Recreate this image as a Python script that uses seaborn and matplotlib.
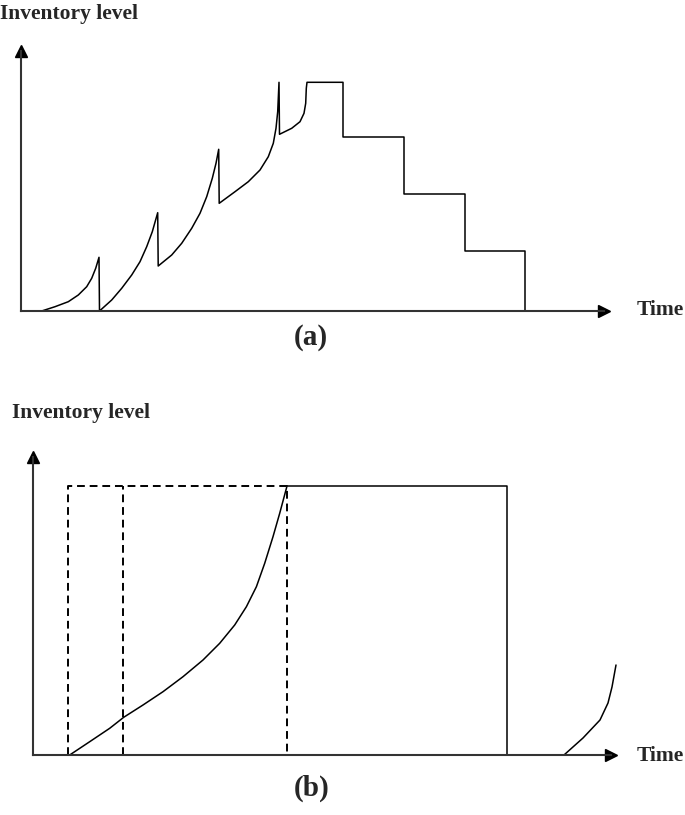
import numpy as np
import pandas as pd
import matplotlib
matplotlib.use("Agg")
import matplotlib.pyplot as plt
import seaborn as sns

# panel (a): inventory path, time / level in arbitrary units
a_time = [0.0, 2.07, 3.4, 4.73, 5.73, 6.57, 7.07, 7.47, 7.8, 7.85,
          9.07, 10.07, 11.07, 11.9, 12.57, 13.13, 13.67, 13.72,
          15.07, 16.07, 17.07, 17.9, 18.57, 19.13, 19.5, 19.77, 19.82,
          21.4, 22.73, 23.9, 24.73, 25.23, 25.5, 25.67, 25.8, 25.85,
          27.07, 27.9, 28.3, 28.47, 28.53, 28.6,
          32.2, 32.2, 38.3, 38.3, 44.4, 44.4, 50.4, 50.4]
a_level = [0.0, 0.0, 0.43, 0.93, 1.6, 2.43, 3.27, 4.27, 5.37, 0.0,
           1.1, 2.27, 3.6, 4.93, 6.43, 7.93, 9.83, 4.5,
           5.6, 6.77, 8.27, 9.77, 11.43, 13.27, 14.77, 16.17, 10.77,
           11.93, 12.93, 14.1, 15.43, 16.77, 18.27, 19.93, 22.87, 17.67,
           18.27, 18.93, 19.77, 20.77, 22.27, 22.87,
           22.87, 17.4, 17.4, 11.7, 11.7, 6.0, 6.0, 0.0]

# panel (b): production curve, then flat stock and depletion
b_time = [3.67, 5.67, 7.67, 9.07, 11.0, 13.0, 15.0, 17.0, 18.67, 20.17,
          21.34, 22.34, 23.17, 24.0, 24.67, 25.34, 25.4, 47.4, 47.4]
b_level = [0.0, 1.33, 2.67, 3.77, 5.0, 6.33, 7.83, 9.5, 11.17, 13.0,
           14.83, 16.83, 19.17, 21.83, 24.17, 26.67, 26.9, 26.9, 0.0]
b_dash_time = [3.5, 3.5, 25.4, 25.4]
b_dash_level = [0.0, 26.9, 26.9, 0.0]
b_mid_time = [9.0, 9.0]
b_mid_level = [0.0, 26.9]
b_next_time = [53.1, 55.0, 56.7, 57.5, 57.9, 58.3]
b_next_level = [0.0, 1.7, 3.5, 5.2, 6.8, 9.0]

W, H = 685, 815


def setup_axes(fig, ox, oy, tip_x, tip_y, xmax, ymax):
    ax = fig.add_axes([ox / W, (H - oy) / H, (tip_x - ox) / W, (oy - tip_y) / H])
    ax.set_xlim(0, xmax)
    ax.set_ylim(0, ymax)
    ax.set_xticks([])
    ax.set_yticks([])
    ax.set_xlabel("")
    ax.set_ylabel("")
    ax.set_facecolor("none")
    for s in ["top", "right"]:
        ax.spines[s].set_visible(False)
    for s in ["left", "bottom"]:
        ax.spines[s].set_color("#333333")
        ax.spines[s].set_linewidth(1.5)
    ax.plot(1, 0, ">", color="black", ms=9, transform=ax.transAxes, clip_on=False)
    ax.plot(0, 1, "^", color="black", ms=9, transform=ax.transAxes, clip_on=False)
    return ax


def main():
    sns.set_style("white")
    plt.rcParams["font.family"] = ["Liberation Serif", "DejaVu Serif"]

    fig = plt.figure(figsize=(6.85, 8.15), dpi=100)

    ax_a = setup_axes(fig, 21, 311, 604, 51, 58.3, 26.0)
    sns.lineplot(x=a_time, y=a_level, sort=False, estimator=None,
                 color="black", lw=1.1, ax=ax_a, clip_on=False)

    ax_b = setup_axes(fig, 33, 755, 611, 457, 57.8, 29.8)
    sns.lineplot(x=b_time, y=b_level, sort=False, estimator=None,
                 color="black", lw=1.1, ax=ax_b, clip_on=False)
    sns.lineplot(x=b_dash_time, y=b_dash_level, sort=False, estimator=None,
                 color="black", lw=1.4, ls=(0, (4, 2.5)), ax=ax_b, clip_on=False)
    sns.lineplot(x=b_mid_time, y=b_mid_level, sort=False, estimator=None,
                 color="black", lw=1.4, ls=(0, (4, 2.5)), ax=ax_b, clip_on=False)
    sns.lineplot(x=b_next_time, y=b_next_level, sort=False, estimator=None,
                 color="black", lw=1.1, ax=ax_b, clip_on=False)

    def ftext(x, y, s, size, **kw):
        fig.text(x / W, 1 - y / H, s, fontsize=size, fontweight="bold", va="center", **kw)

    ftext(0, 14, "Inventory level", 15.5)
    ftext(637, 310, "Time", 15.5)
    ftext(311, 337, "(a)", 21, ha="center")
    ftext(12, 413, "Inventory level", 15.5)
    ftext(637, 756, "Time", 15.5)
    ftext(312, 788, "(b)", 21, ha="center")

    fig.savefig("out.png", dpi=100)


if __name__ == "__main__":
    main()
